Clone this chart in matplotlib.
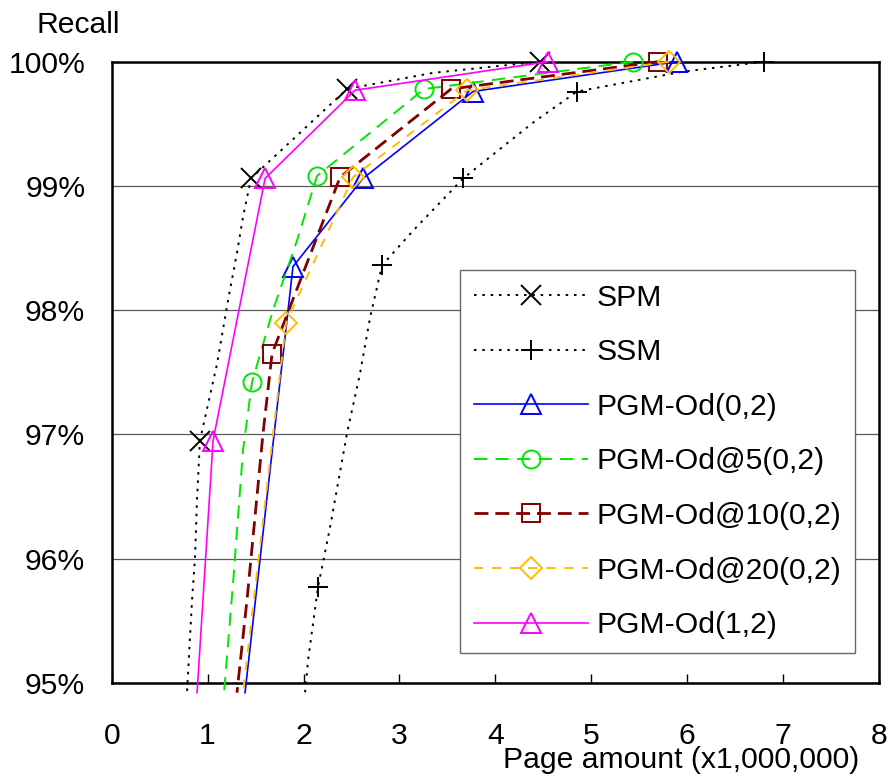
import matplotlib
matplotlib.use("Agg")
import matplotlib.pyplot as plt

plt.rcParams['font.family'] = ['Liberation Sans', 'DejaVu Sans']
plt.rcParams['lines.scale_dashes'] = False

# Page amount (x1,000,000) and recall (%) for each method
spm_x = [4.466, 3.350, 2.453, 1.452, 1.369, 1.306, 1.213, 1.099, 0.920, 0.889, 0.869, 0.838, 0.785]
spm_y = [100.0, 99.91, 99.78, 99.06, 98.75, 98.46, 98.08, 97.57, 96.95, 96.47, 96.01, 95.67, 94.92]
spm_marks = [0, 2, 3, 8]

ssm_x = [6.802, 5.958, 4.852, 4.394, 3.664, 3.143, 2.818, 2.694, 2.589, 2.454, 2.276, 2.151, 2.047, 2.016]
ssm_y = [100.0, 99.92, 99.76, 99.51, 99.06, 98.64, 98.36, 97.94, 97.49, 97.01, 96.25, 95.77, 95.18, 94.92]
ssm_marks = [0, 2, 4, 6, 11]

pgm02_x = [5.895, 3.767, 2.620, 1.890, 1.390]
pgm02_y = [100.0, 99.76, 99.06, 98.35, 94.92]
pgm02_marks = [0, 1, 2, 3]

pgm5_x = [5.436, 3.257, 2.141, 1.932, 1.682, 1.463, 1.369, 1.265, 1.171]
pgm5_y = [100.0, 99.78, 99.08, 98.56, 98.00, 97.42, 96.87, 95.80, 94.92]
pgm5_marks = [0, 1, 2, 5]

pgm10_x = [5.697, 3.538, 2.381, 1.672, 1.578, 1.411, 1.306]
pgm10_y = [100.0, 99.78, 99.07, 97.65, 97.01, 95.67, 94.92]
pgm10_marks = [0, 1, 2, 3]

pgm20_x = [5.812, 3.705, 2.516, 1.818, 1.369]
pgm20_y = [100.0, 99.77, 99.07, 97.90, 94.92]
pgm20_marks = [0, 1, 2, 3]

pgm12_x = [4.550, 2.537, 1.599, 1.057, 0.890]
pgm12_y = [100.0, 99.77, 99.06, 96.95, 94.92]
pgm12_marks = [0, 1, 2, 3]

labels = ['SPM', 'SSM', 'PGM-Od(0,2)', 'PGM-Od@5(0,2)', 'PGM-Od@10(0,2)',
          'PGM-Od@20(0,2)', 'PGM-Od(1,2)']
x_ticks = [0, 1, 2, 3, 4, 5, 6, 7, 8]
y_ticks = [95, 96, 97, 98, 99, 100]
y_ticklabels = ['95%', '96%', '97%', '98%', '99%', '100%']

FS = 21.7

fig = plt.figure(figsize=(8.93, 7.76), dpi=100)
ax = fig.add_axes([0.1251, 0.1202, 0.9843 - 0.1251, 0.9205 - 0.1202])

series = [
    (spm_x, spm_y, spm_marks, dict(color='black', lw=1.4, dashes=(1.8, 4.2), marker='x', ms=14, mew=1.4)),
    (ssm_x, ssm_y, ssm_marks, dict(color='black', lw=1.4, dashes=(1.8, 4.2), marker='+', ms=15, mew=1.4)),
    (pgm02_x, pgm02_y, pgm02_marks, dict(color='#0000ff', lw=1.2, ls='-', marker='^', ms=14, mew=1.4)),
    (pgm5_x, pgm5_y, pgm5_marks, dict(color='#00e600', lw=1.4, dashes=(9.5, 6.0), marker='o', ms=13, mew=1.4)),
    (pgm10_x, pgm10_y, pgm10_marks, dict(color='#800000', lw=2.0, dashes=(10.0, 5.0), marker='s', ms=13, mew=1.4)),
    (pgm20_x, pgm20_y, pgm20_marks, dict(color='#ffbb00', lw=1.4, dashes=(6.5, 6.5), marker='D', ms=11, mew=1.4)),
    (pgm12_x, pgm12_y, pgm12_marks, dict(color='#ff00ff', lw=1.2, ls='-', marker='^', ms=14, mew=1.4)),
]

handles = []
for (xs, ys, marks, st), lab in zip(series, labels):
    ln, = ax.plot(xs, ys, markevery=marks, mfc='none', mec=st['color'],
                  label=lab, clip_on=False, zorder=3, **st)
    handles.append(ln)

ax.set_xlim(0, 8)
ax.set_ylim(95, 100)
ax.set_xticks(x_ticks)
ax.set_yticks(y_ticks)
ax.set_yticklabels(y_ticklabels)
ax.tick_params(axis='both', direction='in', labelsize=FS, length=6.5, width=1.0)
ax.tick_params(axis='x', pad=28)
ax.tick_params(axis='y', pad=19, length=0)
ax.yaxis.grid(True, color='0.35', lw=0.9)
ax.set_axisbelow(True)
for s in ax.spines.values():
    s.set_linewidth(1.8)

fig.text(78 / 893, 1 - 33 / 776, 'Recall', fontsize=FS, ha='center', va='baseline')
fig.text(681 / 893, 1 - 768 / 776, 'Page amount (x1,000,000)', fontsize=FS,
         ha='center', va='baseline')

leg = ax.legend(handles=handles, loc='upper left',
                bbox_to_anchor=(0.454, 0.664), fontsize=FS, numpoints=1,
                handlelength=3.8, handletextpad=0.28, labelspacing=0.88,
                borderpad=0.45, borderaxespad=0, frameon=True, fancybox=False,
                framealpha=1)
leg.get_frame().set_edgecolor('0.4')
leg.get_frame().set_linewidth(1.0)
leg.set_zorder(5)

fig.savefig('out.png', dpi=100)
